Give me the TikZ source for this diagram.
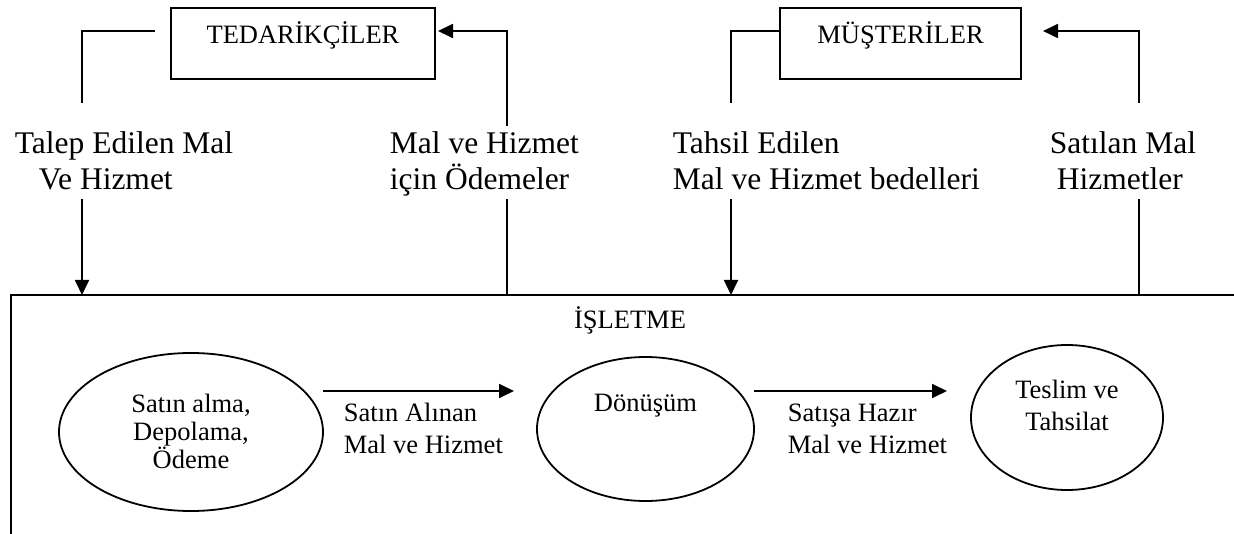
\documentclass[tikz,border=0pt]{standalone}
\usepackage{fontspec}
\setmainfont{Liberation Serif}
\usetikzlibrary{arrows.meta,shapes.geometric}

\begin{document}
\begin{tikzpicture}[x=1pt,y=-1pt,line width=1.8pt,
  flow/.style={-{Triangle[length=15pt,width=14pt]}},
  toplabel/.style={font=\fontsize{31.5}{36}\selectfont,inner sep=0pt,anchor=base west,align=left},
  midlabel/.style={font=\fontsize{26.5}{31.5}\selectfont,inner sep=0pt,anchor=base west,align=left},
  party/.style={draw,rectangle,inner sep=0pt,text height=0pt,text depth=0pt,
    font=\fontsize{26.5}{31.5}\selectfont},
  stage/.style={draw,ellipse,inner sep=0pt,align=center}]

\useasboundingbox (0,0) rectangle (1234,534);

% outside parties
\node[party,minimum width=264pt,minimum height=71pt] (ted) at (303,43.5) {TEDARİKÇİLER};
\node[party,minimum width=241pt,minimum height=71pt] (mus) at (900.5,43.5) {MÜŞTERİLER};

% the firm: open frame running off the right and bottom edges
\coordinate (firmTR) at (1234,295);
\coordinate (firmTL) at (11,295);
\coordinate (firmBL) at (11,534);
\draw (firmTR) -- (firmTL) -- (firmBL);
\node[font=\fontsize{26.5}{31.5}\selectfont,inner sep=0pt,anchor=base] (firm) at (630,329) {İŞLETME};

% process stages (text box height/depth set so the lines sit where wanted)
\node[stage,minimum width=264pt,minimum height=158pt,text height=72pt,text depth=0pt,
  font=\fontsize{26.5}{28}\selectfont] (buy) at (191,432) {Satın alma,\\Depolama,\\Ödeme};
\node[stage,minimum width=217pt,minimum height=144pt,text height=0pt,text depth=36pt,
  font=\fontsize{26.5}{31.5}\selectfont] (conv) at (645.5,429) {Dönüşüm};
\node[stage,minimum width=192pt,minimum height=145pt,text height=25pt,text depth=0pt,
  font=\fontsize{26.5}{32}\selectfont] (deliv) at (1067,417.5) {Teslim ve\\Tahsilat};

% flow labels between parties and firm (anchored on the last line)
\node[toplabel] (lblA) at (14,190) {Talep Edilen Mal\\\hspace*{24pt}Ve Hizmet};
\node[toplabel] (lblB) at (389,190) {Mal ve Hizmet\\için Ödemeler};
\node[toplabel] (lblC) at (672,190) {Tahsil Edilen\\Mal ve Hizmet bedelleri};
\node[toplabel] (lblD) at (1049,190) {Satılan Mal\\\hspace*{7pt}Hizmetler};

% flow labels inside the firm
\node[midlabel] (lblE) at (343,453.2) {Satın Alınan\\Mal ve Hizmet};
\node[midlabel] (lblF) at (787,453.2) {Satışa Hazır\\Mal ve Hizmet};

% supplier -> firm (goods requested)
\coordinate (a0) at (155,31);
\coordinate (a1) at (82,103);
\coordinate (a2) at (82,199);
\coordinate (a3) at (82,295);
\draw (a0) -| (a1);
\draw[flow] (a2) -- (a3);

% firm -> supplier (payments)
\coordinate (b0) at (507,295);
\coordinate (b1) at (507,199);
\coordinate (b2) at (507,126);
\coordinate (b3) at (438,31);
\draw (b0) -- (b1);
\draw[flow] (b2) |- (b3);

% customer -> firm (collections)
\coordinate (c0) at (780,31);
\coordinate (c1) at (731,103);
\coordinate (c2) at (731,199);
\coordinate (c3) at (731,295);
\draw (c0) -| (c1);
\draw[flow] (c2) -- (c3);

% firm -> customer (goods sold)
\coordinate (d0) at (1139,295);
\coordinate (d1) at (1139,199);
\coordinate (d2) at (1139,103);
\coordinate (d3) at (1043,31);
\draw (d0) -- (d1);
\draw[flow] (d2) |- (d3);

% internal flows
\coordinate (e0) at (323,391);
\coordinate (e1) at (514,391);
\coordinate (f0) at (754,391);
\coordinate (f1) at (947,391);
\draw[flow] (e0) -- (e1);
\draw[flow] (f0) -- (f1);

\end{tikzpicture}
\end{document}
